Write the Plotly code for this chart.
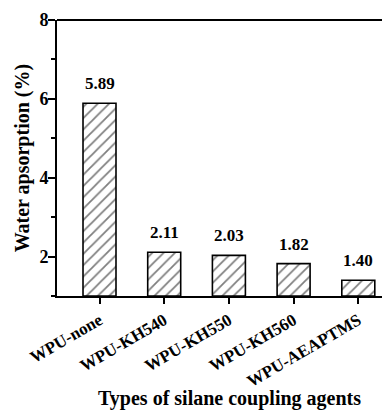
import plotly.graph_objects as go

categories = ["WPU-none", "WPU-KH540", "WPU-KH550", "WPU-KH560", "WPU-AEAPTMS"]
water_absorption = [5.89, 2.11, 2.03, 1.82, 1.40]
value_labels = ["5.89", "2.11", "2.03", "1.82", "1.40"]
y_ticks = [2, 4, 6, 8]
y_minor_ticks = [1, 3, 5, 7]
y_base = 1

FONT = "Liberation Serif"

fig = go.Figure()
fig.add_trace(go.Bar(
    x=list(range(len(categories))),
    y=[v - y_base for v in water_absorption],
    base=y_base,
    width=0.51,
    marker=dict(
        color="white",
        line=dict(color="black", width=1.6),
        pattern=dict(shape="/", fgcolor="black", bgcolor="white", size=8, solidity=0.22),
    ),
    showlegend=False,
))

for i, (v, t) in enumerate(zip(water_absorption, value_labels)):
    fig.add_annotation(x=i, y=v, text=t, showarrow=False, yanchor="bottom", yshift=8,
                       font=dict(family=FONT, size=17, color="black", weight="bold"))

fig.add_annotation(x=0.517, y=-0.37, xref="paper", yref="paper",
                   text="Types of silane coupling agents", showarrow=False,
                   xanchor="center", yanchor="middle",
                   font=dict(family=FONT, size=20, color="black", weight="bold"))

fig.add_annotation(x=-0.104, y=0.5, xref="paper", yref="paper",
                   text="Water apsorption (%)", showarrow=False, textangle=-90,
                   xanchor="center", yanchor="middle",
                   font=dict(family=FONT, size=20, color="black", weight="bold"))

fig.add_shape(type="line", xref="paper", yref="paper", x0=0, x1=1, y0=1, y1=1,
              line=dict(color="black", width=2))

# page body has an 8px margin, so the figure is sized to fill the rest of the window
fig.update_layout(
    width=382, height=402,
    margin=dict(l=49, r=0, t=12, b=114, autoexpand=False),
    paper_bgcolor="white", plot_bgcolor="white",
    font=dict(family=FONT, color="black"),
    xaxis=dict(
        range=[-0.657, 4.49],
        tickvals=list(range(len(categories))),
        ticktext=categories,
        tickangle=-30,
        automargin=False,
        ticks="outside", ticklen=6, tickwidth=1.5, tickcolor="black",
        showline=True, linecolor="black", linewidth=2,
        showgrid=False, zeroline=False,
        tickfont=dict(family=FONT, size=17, color="black", weight="bold"),
    ),
    yaxis=dict(
        range=[1, 8],
        tickvals=y_ticks,
        automargin=False,
        ticks="outside", ticklen=7, tickwidth=1.5, tickcolor="black",
        ticklabelshift=0,
        ticklabelstandoff=-4,
        minor=dict(tickvals=y_minor_ticks, ticks="outside", ticklen=4, tickwidth=1.5, tickcolor="black", showgrid=False),
        showline=True, linecolor="black", linewidth=2,
        showgrid=False, zeroline=False,
        tickfont=dict(family=FONT, size=18, color="black", weight="bold"),
    ),
)

fig.write_html("out.html")
